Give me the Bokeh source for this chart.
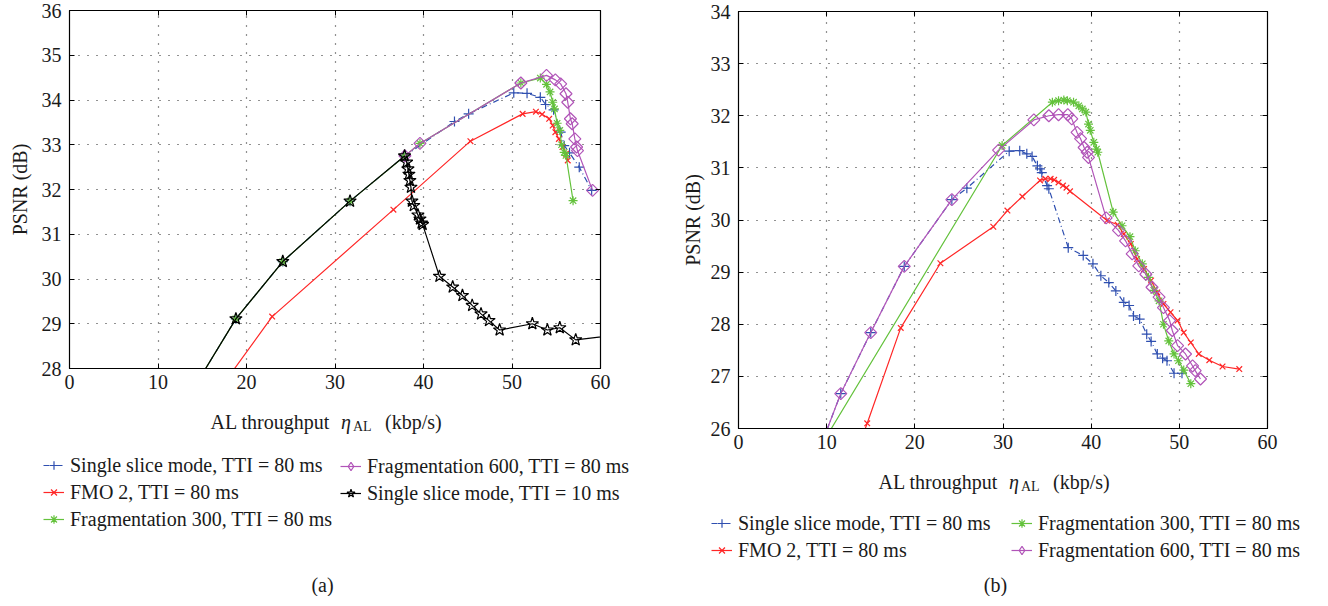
import math
from bokeh.plotting import figure
from bokeh.models import Legend, LegendItem, Label, Range1d, LinearAxis
from bokeh.layouts import row, column
from bokeh.embed import file_html
from bokeh.resources import INLINE

FONT = "Liberation Serif"

# ---------------- data: panel (a) ----------------
a_single80_x = [12.0, 18.8, 24.1, 31.7, 37.9, 43.5, 45.1, 50.2, 51.7, 53.2, 53.8, 54.7, 55.5, 55.9, 56.5, 57.6, 59.0]
a_single80_y = [26.9, 29.11, 30.39, 31.74, 32.75, 33.52, 33.69, 34.16, 34.15, 34.06, 33.90, 33.78, 33.28, 32.98, 32.82, 32.50, 31.98]

a_fmo2_x = [15.0, 22.9, 36.6, 45.3, 51.2, 52.7, 53.4, 54.2, 54.6, 54.9, 55.3, 55.7, 56.1, 56.3]
a_fmo2_y = [27.0, 29.16, 31.55, 33.08, 33.69, 33.74, 33.68, 33.58, 33.43, 33.28, 33.13, 32.95, 32.80, 32.65]

a_frag300_x = [12.0, 18.8, 24.1, 31.7, 37.9, 39.6, 51.0, 53.2, 53.9, 54.3, 54.6, 54.8, 55.1, 55.4, 55.6, 55.9, 56.1, 56.9]
a_frag300_y = [26.9, 29.11, 30.39, 31.74, 32.75, 33.03, 34.38, 34.49, 34.35, 34.18, 33.95, 33.80, 33.48, 33.32, 33.00, 32.83, 32.76, 31.75]

a_frag600_x = [37.9, 39.6, 51.0, 53.9, 54.9, 55.5, 56.1, 56.3, 56.6, 56.8, 57.1, 57.3, 57.4, 59.1]
a_frag600_y = [32.75, 33.03, 34.38, 34.55, 34.45, 34.36, 34.14, 33.95, 33.58, 33.47, 33.13, 32.95, 32.87, 31.98]

a_single10_x = [12.0, 18.8, 24.1, 31.7, 37.86, 38.09, 38.24, 38.35, 38.46, 38.58, 38.69, 38.9, 39.37, 39.6, 39.78, 39.9,
                41.8, 43.3, 44.4, 45.5, 46.5, 47.4, 48.6, 52.3, 54.0, 55.4, 57.2, 62.0]
a_single10_y = [26.9, 29.11, 30.39, 31.74, 32.75, 32.61, 32.46, 32.34, 32.20, 32.05, 31.74, 31.64, 31.43, 31.34, 31.25, 31.22,
                30.06, 29.82, 29.63, 29.41, 29.22, 29.07, 28.86, 29.00, 28.86, 28.91, 28.64, 28.75]

# ---------------- data: panel (b) ----------------
b_single80_x = [9.5, 11.6, 15.0, 18.8, 24.2, 25.9, 30.7, 31.9, 32.7, 33.3, 33.9, 34.2, 34.4, 35.0, 35.2, 37.4, 39.1, 40.2,
                41.1, 42.0, 42.8, 43.7, 44.3, 44.8, 45.5, 46.3, 46.8, 47.5, 48.1, 48.6, 49.4, 50.3]
b_single80_y = [25.74, 26.67, 27.84, 29.11, 30.39, 30.61, 31.32, 31.33, 31.27, 31.22, 31.04, 30.98, 30.91, 30.66, 30.60,
                29.47, 29.32, 29.16, 28.93, 28.80, 28.64, 28.42, 28.36, 28.16, 28.10, 27.81, 27.67, 27.43, 27.35, 27.30,
                27.06, 27.06]

b_fmo2_x = [13.5, 14.6, 18.4, 22.9, 28.9, 30.5, 32.2, 34.2, 34.8, 35.4, 35.8, 36.3, 36.8, 37.2, 37.6, 41.8, 43.0, 43.7,
            44.5, 45.2, 46.0, 46.8, 47.5, 48.2, 49.0, 49.8, 50.5, 51.3, 52.2, 53.4, 54.9, 56.8]
b_fmo2_y = [25.6, 26.1, 27.93, 29.17, 29.87, 30.18, 30.45, 30.76, 30.79, 30.79, 30.77, 30.72, 30.66, 30.62, 30.55, 29.99,
            29.91, 29.73, 29.54, 29.25, 29.06, 28.84, 28.61, 28.39, 28.23, 28.07, 27.84, 27.65, 27.43, 27.31, 27.19, 27.14]

b_frag300_x = [8.0, 29.9, 35.6, 36.3, 36.9, 37.3, 38.0, 38.6, 39.0, 39.4, 39.7, 39.9, 40.3, 40.6, 40.75, 42.5, 43.5, 44.4,
               45.0, 45.8, 46.5, 47.1, 47.7, 48.2, 48.8, 49.4, 49.9, 50.5, 51.3]
b_frag300_y = [25.29, 31.43, 32.26, 32.29, 32.30, 32.29, 32.26, 32.19, 32.13, 32.07, 31.84, 31.72, 31.49, 31.36, 31.30,
               30.15, 29.89, 29.68, 29.41, 29.16, 28.90, 28.65, 28.45, 28.00, 27.68, 27.43, 27.30, 27.12, 26.86]

b_frag600_x = [9.5, 11.6, 15.0, 18.8, 24.2, 29.5, 33.5, 35.2, 36.3, 37.35, 37.8, 38.4, 38.8, 39.2, 39.55, 39.7, 41.7, 43.1,
               43.9, 44.65, 45.4, 46.2, 46.9, 47.7, 48.2, 48.9, 49.2, 49.8, 50.7, 51.5, 51.8, 52.4]
b_frag600_y = [25.74, 26.67, 27.84, 29.11, 30.39, 31.34, 31.92, 32.00, 32.02, 32.02, 31.94, 31.68, 31.56, 31.39, 31.30,
               31.20, 30.04, 29.80, 29.60, 29.35, 29.12, 28.96, 28.71, 28.52, 28.32, 28.07, 27.88, 27.59, 27.43, 27.20,
               27.11, 26.95]

x_ticks = [0, 10, 20, 30, 40, 50, 60]
a_y_ticks = [28, 29, 30, 31, 32, 33, 34, 35, 36]
b_y_ticks = [26, 27, 28, 29, 30, 31, 32, 33, 34]

lbl_single80 = "Single slice mode, TTI = 80 ms"
lbl_fmo2 = "FMO 2, TTI = 80 ms"
lbl_frag300 = "Fragmentation 300, TTI = 80 ms"
lbl_frag600 = "Fragmentation 600, TTI = 80 ms"
lbl_single10 = "Single slice mode, TTI = 10 ms"

BLUE = "#2f4fb0"
RED = "#ff2626"
GREEN = "#64c23c"
MAGENTA = "#b154b8"
BLACK = "#000000"
TXT = "#1a1a1a"

STYLES = {
    "single80": dict(color=BLUE, marker="cross", size=10, dash="6 3 1 3", angle=0.0),
    "fmo2": dict(color=RED, marker="x", size=8, dash="solid", angle=0.0),
    "frag300": dict(color=GREEN, marker="asterisk", size=9, dash="solid", angle=0.0),
    "frag600": dict(color=MAGENTA, marker="square", size=8.5, dash="solid", angle=math.pi / 4),
    "single10": dict(color=BLACK, marker="star", size=13, dash="solid", angle=0.0),
}
LEGEND_MARKER = {"frag600": dict(marker="diamond", size=13, angle=0.0)}


def make_fig(fw, fh, bl, br, bt, bb, yr, yticks, ylab_standoff):
    p = figure(frame_width=fw, frame_height=fh, min_border_left=bl, min_border_right=br,
               min_border_top=bt, min_border_bottom=bb,
               x_range=Range1d(0, 60), y_range=Range1d(*yr),
               output_backend="svg", toolbar_location=None)
    p.background_fill_color = "white"
    p.border_fill_color = "white"
    p.outline_line_color = "black"
    p.outline_line_width = 1.2
    p.xaxis.ticker = x_ticks
    p.yaxis.ticker = yticks
    for ax in (p.xaxis[0], p.yaxis[0]):
        ax.major_tick_in = 5
        ax.major_tick_out = 0
        ax.minor_tick_line_color = None
        ax.axis_line_color = "black"
        ax.major_label_text_font = FONT
        ax.major_label_text_font_size = "20px"
        ax.major_label_text_color = TXT
    p.xaxis.major_label_standoff = 6
    p.yaxis.major_label_standoff = 8
    p.yaxis.axis_label = "PSNR (dB)"
    p.yaxis.axis_label_text_font = FONT
    p.yaxis.axis_label_text_font_size = "20px"
    p.yaxis.axis_label_text_font_style = "normal"
    p.yaxis.axis_label_text_color = TXT
    p.yaxis.axis_label_standoff = ylab_standoff
    # box ticks on the top and right edges (no labels)
    for place, ticks in (("above", x_ticks), ("right", yticks)):
        ax = LinearAxis(ticker=ticks)
        ax.major_tick_in = 5
        ax.major_tick_out = 0
        ax.minor_tick_line_color = None
        ax.major_label_text_color = None
        ax.major_label_text_font_size = "1px"
        ax.major_label_standoff = 0
        ax.axis_line_color = "black"
        p.add_layout(ax, place)
    for g in (p.xgrid[0], p.ygrid[0]):
        g.grid_line_color = "#222222"
        g.grid_line_dash = "1 8"
        g.grid_line_width = 1.2
    return p


def series(p, xs, ys, key, lw=1.2, legend=False):
    st = dict(STYLES[key])
    if legend and key in LEGEND_MARKER:
        st.update(LEGEND_MARKER[key])
    l = p.line(xs, ys, line_color=st["color"], line_width=lw, line_dash=st["dash"])
    s = p.scatter(xs, ys, marker=st["marker"], size=st["size"], line_color=st["color"], fill_color=None,
                  line_width=1.2, angle=st["angle"])
    return [l, s]


def make_panel(w, h):
    q = figure(width=w, height=h, x_range=Range1d(0, w), y_range=Range1d(0, h),
               x_axis_type=None, y_axis_type=None, min_border=0,
               min_border_left=0, min_border_right=0, min_border_top=0, min_border_bottom=0,
               output_backend="svg", toolbar_location=None)
    q.outline_line_color = None
    q.grid.visible = False
    q.background_fill_color = "white"
    q.border_fill_color = "white"
    return q


NAN = [float("nan")]


def add_legend(q, entries, vx, vy):
    items = []
    for key, label in entries:
        items.append(LegendItem(label=label, renderers=series(q, NAN, NAN, key, legend=True)))
    lg = Legend(items=items, location=(vx, vy), orientation="vertical", padding=0, margin=0,
                spacing=3, glyph_width=21, glyph_height=24, label_height=24, label_standoff=6,
                label_text_font=FONT, label_text_font_size="20px", label_text_color=TXT,
                background_fill_alpha=0, border_line_alpha=0)
    q.add_layout(lg)


def add_text(q, x, y, text, size="20px", align="left", style="normal"):
    q.add_layout(Label(x=x, y=y, x_units="screen", y_units="screen", text=text,
                       text_font=FONT, text_font_size=size, text_align=align,
                       text_baseline="middle", text_font_style=style, text_color=TXT))


def add_xlabel(q, c, y):
    add_text(q, c - 5, y, "AL throughput", align="right")
    add_text(q, c + 6, y, "\u03b7", style="italic")
    add_text(q, c + 18, y - 5, "AL", size="14px")
    add_text(q, c + 50, y, "(kbp/s)")


# ---------------- panel (a) ----------------
FWA, FHA = 531, 358
pa = make_fig(FWA, FHA, 69, 32, 10, 36, (28, 36), a_y_ticks, 8)
series(pa, a_single80_x, a_single80_y, "single80")
series(pa, a_fmo2_x, a_fmo2_y, "fmo2")
series(pa, a_frag300_x, a_frag300_y, "frag300")
series(pa, a_frag600_x, a_frag600_y, "frag600")
series(pa, a_single10_x, a_single10_y, "single10")

la = make_panel(632, 192)
add_xlabel(la, 69 + FWA / 2, 175)
add_legend(la, [("single80", lbl_single80), ("fmo2", lbl_fmo2), ("frag300", lbl_frag300)], 43, 65)
add_legend(la, [("frag600", lbl_frag600), ("single10", lbl_single10)], 340, 91)
add_text(la, 322, 12, "(a)", align="center")

# ---------------- panel (b) ----------------
FWB, FHB = 529, 417
pb = make_fig(FWB, FHB, 106, 30, 11, 36, (26, 34), b_y_ticks, 4)
series(pb, b_single80_x, b_single80_y, "single80")
series(pb, b_fmo2_x, b_fmo2_y, "fmo2")
series(pb, b_frag300_x, b_frag300_y, "frag300")
series(pb, b_frag600_x, b_frag600_y, "frag600")

lb = make_panel(690, 132)
add_xlabel(lb, 106 + FWB / 2, 115)
add_legend(lb, [("single80", lbl_single80), ("fmo2", lbl_fmo2)], 79, 34)
add_legend(lb, [("frag300", lbl_frag300), ("frag600", lbl_frag600)], 379, 34)
add_text(lb, 363, 12, "(b)", align="center")

layout = row(column(pa, row(la)), column(pb, row(lb)))
open("out.html", "w").write(file_html(layout, INLINE))
